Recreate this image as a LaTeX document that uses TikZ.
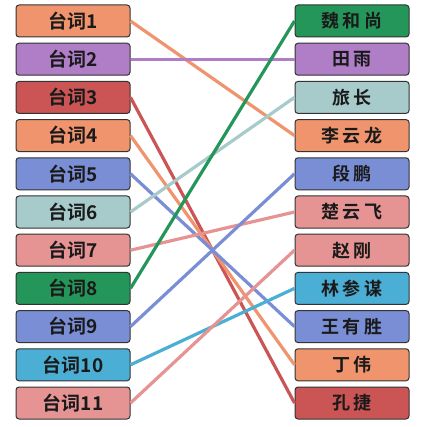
\documentclass[tikz,border=0pt]{standalone}
\usepackage{fontspec}
\setmainfont{Noto Sans CJK SC}
\newfontfamily\cjkbold[BoldFont={* Bold}]{Noto Sans CJK SC}
\newfontfamily\cjkname[BoldFont={* Bold},LetterSpace=22]{Noto Sans CJK SC}
\definecolor{cOrange}{HTML}{F0946E}
\definecolor{cPurple}{HTML}{B07DC7}
\definecolor{cRed}{HTML}{CB5455}
\definecolor{cBlue}{HTML}{7A8ED6}
\definecolor{cMint}{HTML}{A7CACA}
\definecolor{cPink}{HTML}{E69394}
\definecolor{cGreen}{HTML}{25965A}
\definecolor{cSky}{HTML}{4BAED5}
\definecolor{cInk}{HTML}{1A1A1A}
\tikzstyle{lS}=[rounded corners=3pt,minimum width=114pt,minimum height=32pt,inner sep=0pt,draw=black!80,line width=1pt,text=cInk,font=\cjkbold\bfseries\fontsize{19}{19}\selectfont]
\tikzstyle{rS}=[lS,font=\cjkname\bfseries\fontsize{18}{18}\selectfont]
\tikzstyle{eS}=[line width=3.2pt]
\begin{document}
\begin{tikzpicture}[x=1pt,y=-1pt]
    \useasboundingbox (0,0) rectangle (425,427);
    \draw (73,21)    node[lS,fill=cOrange] (t1)  {台词1};
    \draw (73,59.2)  node[lS,fill=cPurple] (t2)  {台词2};
    \draw (73,97.4)  node[lS,fill=cRed]    (t3)  {台词3};
    \draw (73,135.6) node[lS,fill=cOrange] (t4)  {台词4};
    \draw (73,173.8) node[lS,fill=cBlue]   (t5)  {台词5};
    \draw (73,212)   node[lS,fill=cMint]   (t6)  {台词6};
    \draw (73,250.2) node[lS,fill=cPink]   (t7)  {台词7};
    \draw (73,288.4) node[lS,fill=cGreen]  (t8)  {台词8};
    \draw (73,326.6) node[lS,fill=cBlue]   (t9)  {台词9};
    \draw (73,364.8) node[lS,fill=cSky]    (t10) {台词10};
    \draw (73,403)   node[lS,fill=cPink]   (t11) {台词11};
    \draw (352,21)    node[rS,fill=cGreen]  (wei)   {魏和尚};
    \draw (352,59.2)  node[rS,fill=cPurple] (tian)  {田雨};
    \draw (352,97.4)  node[rS,fill=cMint]   (lvz)   {旅长};
    \draw (352,135.6) node[rS,fill=cOrange] (li)    {李云龙};
    \draw (352,173.8) node[rS,fill=cBlue]   (duan)  {段鹏};
    \draw (352,212)   node[rS,fill=cPink]   (chu)   {楚云飞};
    \draw (352,250.2) node[rS,fill=cPink]   (zhao)  {赵刚};
    \draw (352,288.4) node[rS,fill=cSky]    (lin)   {林参谋};
    \draw (352,326.6) node[rS,fill=cBlue]   (wang)  {王有胜};
    \draw (352,364.8) node[rS,fill=cOrange] (ding)  {丁伟};
    \draw (352,403)   node[rS,fill=cRed]    (kong)  {孔捷};
    \path
        (t1.east)  edge[eS,draw=cOrange] (li.west)
        (t2.east)  edge[eS,draw=cPurple] (tian.west)
        (t3.east)  edge[eS,draw=cRed]    (kong.west)
        (t4.east)  edge[eS,draw=cOrange] (ding.west)
        (t5.east)  edge[eS,draw=cBlue]   (wang.west)
        (t6.east)  edge[eS,draw=cMint]   (lvz.west)
        (t7.east)  edge[eS,draw=cPink]   (chu.west)
        (t8.east)  edge[eS,draw=cGreen]  (wei.west)
        (t9.east)  edge[eS,draw=cBlue]   (duan.west)
        (t10.east) edge[eS,draw=cSky]    (lin.west)
        (t11.east) edge[eS,draw=cPink]   (zhao.west)
    ;
\end{tikzpicture}
\end{document}
